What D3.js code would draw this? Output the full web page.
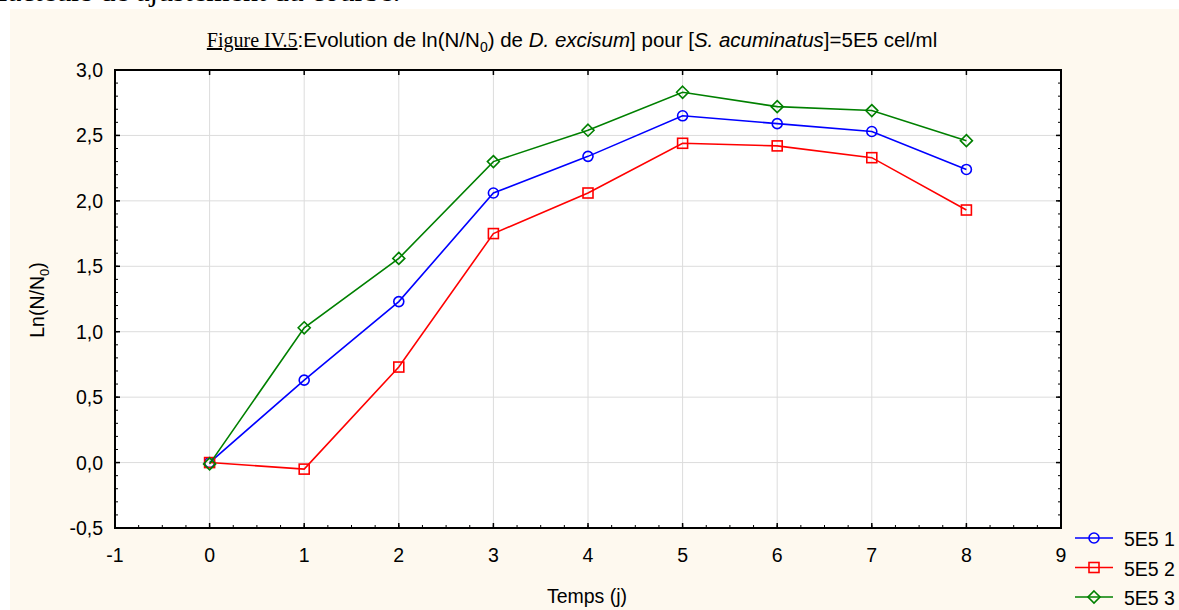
<!DOCTYPE html>
<html><head><meta charset="utf-8">
<script src="https://cdn.jsdelivr.net/npm/d3@7"></script>
<style>body{margin:0;background:#fff;}svg{display:block;}</style>
</head><body>
<svg id="c" width="1179" height="610"></svg>
<script>
const days = [0,1,2,3,4,5,6,7,8];
const serie1 = [0.00,0.63,1.23,2.06,2.34,2.65,2.59,2.53,2.24];
const serie2 = [0.00,-0.05,0.73,1.75,2.06,2.44,2.42,2.33,1.93];
const serie3 = [-0.01,1.03,1.56,2.30,2.54,2.83,2.72,2.69,2.46];
const seriesNames = ["5E5 1","5E5 2","5E5 3"];
const xTicks = [-1,0,1,2,3,4,5,6,7,8,9];
const yTicks = [-0.5,0,0.5,1,1.5,2,2.5,3];

const colors = ["#0000ff","#ff0000","#008000"];
const shapes = ["circle","square","diamond"];
const data = [serie1,serie2,serie3];

const svg = d3.select("#c");
const L=115, R=1061, T=70, B=528;
const x = d3.scaleLinear().domain([-1,9]).range([L,R]);
const y = d3.scaleLinear().domain([-0.5,3]).range([B,T]);
const sans = "'Liberation Sans', Arial, sans-serif";
const serif = "'Liberation Serif','DejaVu Serif',serif";
const FS = 19.5;

// cut-off text from the page above
svg.append("text").attr("x",-2).attr("y",0.5).attr("font-family",serif).attr("font-size",30)
  .attr("fill","#000").text("facteurs de ajustement du courbe.");

// panel
svg.append("rect").attr("x",10).attr("y",9).attr("width",1169).attr("height",601).attr("fill","#fef9ef");
svg.append("rect").attr("x",L).attr("y",T).attr("width",R-L).attr("height",B-T).attr("fill","#fff");

// grid
const g = svg.append("g");
g.selectAll(".gx").data(xTicks.slice(1,-1)).join("line")
  .attr("x1",d=>x(d)).attr("x2",d=>x(d)).attr("y1",T).attr("y2",B)
  .attr("stroke","#dcdcdc").attr("stroke-width",1);
g.selectAll(".gy").data(yTicks.slice(1,-1)).join("line")
  .attr("x1",L).attr("x2",R).attr("y1",d=>y(d)).attr("y2",d=>y(d))
  .attr("stroke","#dcdcdc").attr("stroke-width",1);

// axes with inward ticks
const fmt = d => d3.format(".1f")(d).replace(".",",").replace("\u2212","-");
const xMinor = d3.range(-1,9.001,0.25);
const yMinor = d3.range(-0.5,3.001,0.1);
const ax = svg.append("g");
ax.selectAll(".mxb").data(xMinor).join("line")
  .attr("x1",d=>x(d)).attr("x2",d=>x(d)).attr("y1",B).attr("y2",B-3).attr("stroke","#000");
ax.selectAll(".myl").data(yMinor).join("line")
  .attr("y1",d=>y(d)).attr("y2",d=>y(d)).attr("x1",L).attr("x2",L+3).attr("stroke","#000");
ax.selectAll(".myr").data(yMinor).join("line")
  .attr("y1",d=>y(d)).attr("y2",d=>y(d)).attr("x1",R).attr("x2",R-3).attr("stroke","#000");
ax.selectAll(".Mxb").data(xTicks).join("line")
  .attr("x1",d=>x(d)).attr("x2",d=>x(d)).attr("y1",B).attr("y2",B-5).attr("stroke","#000").attr("stroke-width",1.5);
ax.selectAll(".Mxt").data(xTicks).join("line")
  .attr("x1",d=>x(d)).attr("x2",d=>x(d)).attr("y1",T).attr("y2",T+5).attr("stroke","#000").attr("stroke-width",1.5);
ax.selectAll(".Myl").data(yTicks).join("line")
  .attr("y1",d=>y(d)).attr("y2",d=>y(d)).attr("x1",L).attr("x2",L+5).attr("stroke","#000").attr("stroke-width",1.5);
ax.selectAll(".Myr").data(yTicks).join("line")
  .attr("y1",d=>y(d)).attr("y2",d=>y(d)).attr("x1",R).attr("x2",R-5).attr("stroke","#000").attr("stroke-width",1.5);
svg.append("rect").attr("x",L).attr("y",T).attr("width",R-L).attr("height",B-T)
  .attr("fill","none").attr("stroke","#000").attr("stroke-width",2);

// tick labels
svg.selectAll(".xl").data(xTicks).join("text")
  .attr("x",d=>x(d)).attr("y",562).attr("text-anchor","middle")
  .attr("font-family",sans).attr("font-size",FS).text(d=>String(d));
svg.selectAll(".yl").data(yTicks).join("text")
  .attr("x",103).attr("y",d=>y(d)+7).attr("text-anchor","end")
  .attr("font-family",sans).attr("font-size",FS).text(fmt);

// axis titles
svg.append("text").attr("x",587).attr("y",603).attr("text-anchor","middle")
  .attr("font-family",sans).attr("font-size",FS).text("Temps (j)");
const yt = svg.append("text").attr("transform","translate(44,300) rotate(-90)")
  .attr("text-anchor","middle").attr("font-family",sans).attr("font-size",FS);
yt.append("tspan").text("Ln(N/N");
yt.append("tspan").attr("font-size",13).attr("dy",5).text("0");
yt.append("tspan").attr("dy",-5).text(")");

// title
const tt = svg.append("text").attr("x",572).attr("y",47).attr("text-anchor","middle")
  .attr("font-family",sans).attr("font-size",20.5);
tt.append("tspan").attr("font-family",serif).attr("font-size",20).attr("text-decoration","underline").text("Figure IV.5");
tt.append("tspan").text(":Evolution de ln(N/N");
tt.append("tspan").attr("font-size",14).attr("dy",5).text("0");
tt.append("tspan").attr("dy",-5).text(") de ");
tt.append("tspan").attr("font-style","italic").text("D. excisum");
tt.append("tspan").text("] pour [");
tt.append("tspan").attr("font-style","italic").text("S. acuminatus");
tt.append("tspan").text("]=5E5 cel/ml");

// markers
function marker(sel, shape, color){
  if(shape==="circle") sel.append("circle").attr("r",5);
  else if(shape==="square") sel.append("rect").attr("x",-5).attr("y",-5).attr("width",10).attr("height",10);
  else sel.append("path").attr("d","M0,-6L6,0L0,6L-6,0Z");
  sel.selectAll("*").attr("fill","none").attr("stroke",color).attr("stroke-width",1.6);
}

const line = d3.line().x((d,i)=>x(days[i])).y(d=>y(d));
data.forEach((s,k)=>{
  svg.append("path").attr("d",line(s)).attr("fill","none").attr("stroke",colors[k]).attr("stroke-width",1.6);
  const pts = svg.append("g").selectAll("g").data(s).join("g")
    .attr("transform",(d,i)=>`translate(${x(days[i])},${y(d)})`);
  pts.each(function(){ marker(d3.select(this), shapes[k], colors[k]); });
});

// legend
const leg = svg.append("g");
seriesNames.forEach((n,k)=>{
  const ly = 538 + k*29.5;
  leg.append("line").attr("x1",1075).attr("x2",1113).attr("y1",ly).attr("y2",ly)
    .attr("stroke",colors[k]).attr("stroke-width",1.6);
  const m = leg.append("g").attr("transform",`translate(1094,${ly})`);
  marker(m, shapes[k], colors[k]);
  leg.append("text").attr("x",1124).attr("y",ly+8).attr("font-family",sans).attr("font-size",FS).text(n);
});
</script>
</body></html>
